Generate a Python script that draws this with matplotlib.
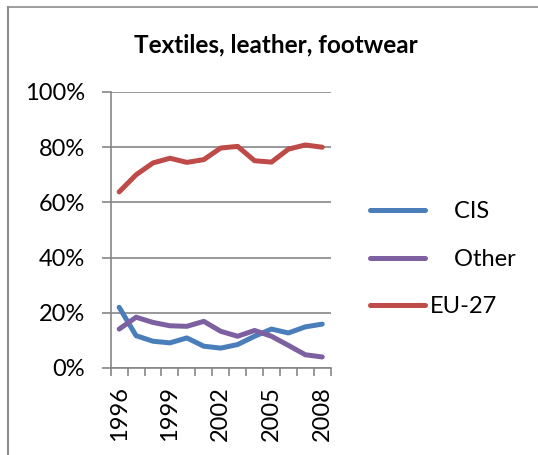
import matplotlib
matplotlib.use("Agg")
import matplotlib.pyplot as plt
from matplotlib.lines import Line2D
from matplotlib.ticker import FixedLocator, PercentFormatter
import numpy as np

# data (shares)
# ====
years = list(range(1996, 2009))
cis   = [0.220, 0.117, 0.097, 0.091, 0.109, 0.079, 0.072, 0.085,
         0.115, 0.141, 0.127, 0.149, 0.159]
other = [0.141, 0.184, 0.165, 0.153, 0.151, 0.169, 0.133, 0.115,
         0.136, 0.115, 0.082, 0.048, 0.040]
eu27  = [0.638, 0.700, 0.743, 0.760, 0.745, 0.755, 0.797, 0.803,
         0.751, 0.746, 0.793, 0.808, 0.800]
series_names = ["CIS", "Other", "EU-27"]
label_years  = [1996, 1999, 2002, 2005, 2008]

# style
# =====
COLORS = {"CIS": "#4A7EBB", "Other": "#7D60A0", "EU-27": "#BE4B48"}
GRAY   = "#868686"
FS     = 17
plt.rcParams["font.family"] = ["Lato", "DejaVu Sans"]

W, H = 538, 455
fig = plt.figure(figsize=(W / 100, H / 100), dpi=100)
ax  = fig.add_axes([110.7 / W, 1 - 368 / H, 220 / W, 276 / H])

x = np.arange(len(years))
for name, vals in zip(series_names, [cis, other, eu27]):
    ax.plot(x, vals, color=COLORS[name], lw=3.6, solid_capstyle="round",
            solid_joinstyle="round", label=name)

ax.set_xlim(-0.5, len(years) - 0.5)
ax.set_ylim(0, 1)
ax.yaxis.set_major_locator(FixedLocator(np.linspace(0, 1, 6)))
ax.yaxis.set_major_formatter(PercentFormatter(1.0, decimals=0))
ax.grid(axis="y", color=GRAY, lw=1.2)
ax.set_axisbelow(True)

# x: ticks on category boundaries, labels every third year
ax.set_xticks(np.arange(len(years) + 1) - 0.5, minor=True)
ax.set_xticks([years.index(y) for y in label_years])
ax.set_xticklabels([str(y) for y in label_years], rotation=90)
ax.tick_params(axis="x", which="major", length=0, pad=13, labelsize=FS)
ax.tick_params(axis="x", which="minor", length=6, width=1.2, color=GRAY)
ax.tick_params(axis="y", length=6.5, width=1.2, color=GRAY, pad=12,
               labelsize=FS)

for side in ("top", "right"):
    ax.spines[side].set_visible(False)
for side in ("left", "bottom"):
    ax.spines[side].set_color(GRAY)
    ax.spines[side].set_linewidth(1.2)

fig.text(276 / W, 1 - 45 / H, "Textiles, leather, footwear",
         ha="center", va="center", fontsize=17.5, fontweight="bold")

# legend, Excel-style padding in front of the first two labels
handles, labels = ax.get_legend_handles_labels()
labels = ["    " + l if l != "EU-27" else l for l in labels]
ax.legend(handles, labels, loc="center left",
          bbox_to_anchor=(370 / W, 1 - 259.3 / H),
          bbox_transform=fig.transFigure, frameon=False, fontsize=FS,
          handlelength=2.35, handletextpad=0.17, labelspacing=1.12,
          borderpad=0, borderaxespad=0)

# chart frame (only top and left edges show)
fig.add_artist(Line2D([8 / W, 8 / W], [0, 1 - 6.5 / H], color="#8c8c8c",
                      lw=1.5, transform=fig.transFigure))
fig.add_artist(Line2D([8 / W, 1], [1 - 6.5 / H, 1 - 6.5 / H],
                      color="#8c8c8c", lw=1.2, transform=fig.transFigure))

fig.savefig("out.png", dpi=100)
